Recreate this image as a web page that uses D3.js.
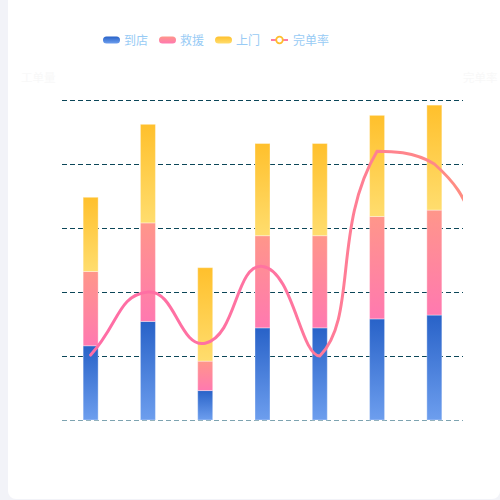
<!DOCTYPE html>
<html>
<head>
<meta charset="utf-8">
<script src="https://cdn.jsdelivr.net/npm/d3@7"></script>
<style>
  html, body { margin: 0; padding: 0; width: 500px; height: 500px; overflow: hidden; background: #f2f3f8; }
  #card { position: absolute; left: 8px; top: -10px; width: 492px; height: 509px; background: #fff; border-radius: 8px; }
  svg { position: absolute; left: 0; top: 0; font-family: "Noto Sans CJK SC", "Noto Sans", sans-serif; }
</style>
</head>
<body>
<div id="card"></div>
<div id="chart"></div>
<script>
// categories: 8 slots, the last bar is outside the visible grid
var categories = ['1', '2', '3', '4', '5', '6', '7', '8'];
var seriesNames = ['到店', '救援', '上门'];
var daodian = [58, 77, 23, 72, 72, 79, 82];
var jiuyuan = [58, 77, 23, 72, 72, 80, 82];
var shangmen = [58, 77, 73, 72, 72, 79, 82];
var wandanlv = [20.3, 40, 24, 48, 20, 84, 80, 52];
var leftTicks = [0, 50, 100, 150, 200, 250];

var width = 500,
    height = 500,
    gridLeft = 62,
    gridRight = 463,
    gridTop = 100,
    gridBottom = 420,
    band = (gridRight - gridLeft) / 7;

var svg = d3.select('#chart')
    .append('svg')
    .attr('width', width)
    .attr('height', height);

var defs = svg.append('defs');

function vGradient(id, top, bottom) {
    var g = defs.append('linearGradient')
        .attr('id', id)
        .attr('x1', 0).attr('y1', 0)
        .attr('x2', 0).attr('y2', 1);
    g.append('stop').attr('offset', '0%').attr('stop-color', top);
    g.append('stop').attr('offset', '100%').attr('stop-color', bottom);
}
vGradient('gBlue', '#2862c8', '#6d9eee');
vGradient('gPink', '#ff968a', '#ff79b0');
vGradient('gYellow', '#ffc02c', '#ffdd6e');

var lineGrad = defs.append('linearGradient')
    .attr('id', 'gLine')
    .attr('gradientUnits', 'userSpaceOnUse')
    .attr('x1', gridLeft).attr('y1', 0)
    .attr('x2', gridRight).attr('y2', 0);
lineGrad.append('stop').attr('offset', '0%').attr('stop-color', '#ff6ca6');
lineGrad.append('stop').attr('offset', '55%').attr('stop-color', '#ff74a0');
lineGrad.append('stop').attr('offset', '100%').attr('stop-color', '#ff8d82');

defs.append('clipPath')
    .attr('id', 'plotClip')
    .append('rect')
    .attr('x', gridLeft)
    .attr('y', 0)
    .attr('width', gridRight - gridLeft)
    .attr('height', gridBottom + 5);

var xScale = d3.scaleBand()
    .domain(categories)
    .range([gridLeft, gridLeft + band * categories.length]);

var yScale = d3.scaleLinear().domain([0, 250]).range([gridBottom, gridTop]);
var yRight = d3.scaleLinear().domain([0, 100]).range([gridBottom, gridTop]);

// axis names (very faint, almost white)
svg.append('text')
    .attr('x', 21).attr('y', 82)
    .attr('font-size', 11.5)
    .attr('fill', '#f8f8f8')
    .text('工单量');
svg.append('text')
    .attr('x', 463).attr('y', 82)
    .attr('font-size', 11.5)
    .attr('fill', '#f8f8f8')
    .text('完单率');

// grid lines
var yAxis = d3.axisLeft(yScale)
    .tickValues(leftTicks)
    .tickSize(-(gridRight - gridLeft))
    .tickFormat('');

var yAxisG = svg.append('g')
    .attr('transform', 'translate(' + gridLeft + ',0)')
    .call(yAxis);
yAxisG.select('.domain').remove();
yAxisG.selectAll('.tick line')
    .attr('stroke', function (d) { return d === 0 ? '#7ea4b1' : '#0b4658'; })
    .attr('stroke-dasharray', '5,3');

// stacked bars
var barData = categories.slice(0, daodian.length).map(function (c, i) {
    return { cat: c, '到店': daodian[i], '救援': jiuyuan[i], '上门': shangmen[i] };
});
var stack = d3.stack().keys(seriesNames)(barData);
var fills = { '到店': 'url(#gBlue)', '救援': 'url(#gPink)', '上门': 'url(#gYellow)' };
var barWidth = 15;

var plot = svg.append('g').attr('clip-path', 'url(#plotClip)');

plot.selectAll('g.layer')
    .data(stack)
    .enter()
    .append('g')
    .attr('class', 'layer')
    .attr('fill', function (d) { return fills[d.key]; })
    .selectAll('rect')
    .data(function (d) { return d; })
    .enter()
    .append('rect')
    .attr('x', function (d) { return xScale(d.data.cat) + xScale.bandwidth() / 2 - barWidth / 2; })
    .attr('y', function (d) { return yScale(d[1]); })
    .attr('width', barWidth)
    .attr('height', function (d) { return yScale(d[0]) - yScale(d[1]); })
    .attr('stroke', 'rgba(255,255,255,0.35)')
    .attr('stroke-width', 1);

// smooth line: bezier smoothing with control points kept inside the points' box
var pts = wandanlv.map(function (v, i) {
    return [xScale(categories[i]) + xScale.bandwidth() / 2, yRight(v)];
});
var minX = d3.min(pts, function (p) { return p[0]; }),
    maxX = d3.max(pts, function (p) { return p[0]; }),
    minY = d3.min(pts, function (p) { return p[1]; }),
    maxY = d3.max(pts, function (p) { return p[1]; });
function clampX(x) { return Math.max(minX, Math.min(maxX, x)); }
function clampY(y) { return Math.max(minY, Math.min(maxY, y)); }

var smooth = 0.5;
var cps = pts.map(function (p, i) {
    var prev = pts[i - 1] || p,
        next = pts[i + 1] || p;
    var vx = next[0] - prev[0], vy = next[1] - prev[1];
    var l0 = Math.hypot(p[0] - prev[0], p[1] - prev[1]);
    var l1 = Math.hypot(next[0] - p[0], next[1] - p[1]);
    var r = (l0 + l1) ? l1 / (l0 + l1) : 0.5;
    return {
        inX: clampX(p[0] - vx * smooth * (1 - r)), inY: clampY(p[1] - vy * smooth * (1 - r)),
        outX: clampX(p[0] + vx * smooth * r), outY: clampY(p[1] + vy * smooth * r)
    };
});
var path = d3.path();
path.moveTo(pts[0][0], pts[0][1]);
for (var i = 1; i < pts.length; i++) {
    path.bezierCurveTo(cps[i - 1].outX, cps[i - 1].outY, cps[i].inX, cps[i].inY, pts[i][0], pts[i][1]);
}
plot.append('path')
    .attr('d', path.toString())
    .attr('fill', 'none')
    .attr('stroke', 'url(#gLine)')
    .attr('stroke-width', 3)
    .attr('stroke-linecap', 'round');

// legend
var legendItems = [
    { name: '到店', x: 103, type: 'bar', fill: 'url(#gBlue)' },
    { name: '救援', x: 159, type: 'bar', fill: 'url(#gPink)' },
    { name: '上门', x: 215, type: 'bar', fill: 'url(#gYellow)' },
    { name: '完单率', x: 271, type: 'line' }
];
var legend = svg.append('g');
legendItems.forEach(function (item) {
    var g = legend.append('g').attr('transform', 'translate(' + item.x + ',40)');
    if (item.type === 'bar') {
        g.append('rect')
            .attr('x', 0).attr('y', -3.5)
            .attr('width', 17).attr('height', 7)
            .attr('rx', 3.5)
            .attr('fill', item.fill);
        g.append('text')
            .attr('x', 21).attr('y', 4.5)
            .attr('font-size', 12)
            .attr('fill', '#98cbf5')
            .text(item.name);
    } else {
        g.append('line')
            .attr('x1', 0).attr('x2', 17)
            .attr('y1', 0).attr('y2', 0)
            .attr('stroke', '#ff7aa2')
            .attr('stroke-width', 2);
        g.append('circle')
            .attr('cx', 8.5).attr('cy', 0).attr('r', 3.3)
            .attr('fill', '#fff')
            .attr('stroke', '#ffbd2e')
            .attr('stroke-width', 1.8);
        g.append('text')
            .attr('x', 22).attr('y', 4.5)
            .attr('font-size', 12)
            .attr('fill', '#98cbf5')
            .text(item.name);
    }
});
</script>
</body>
</html>
